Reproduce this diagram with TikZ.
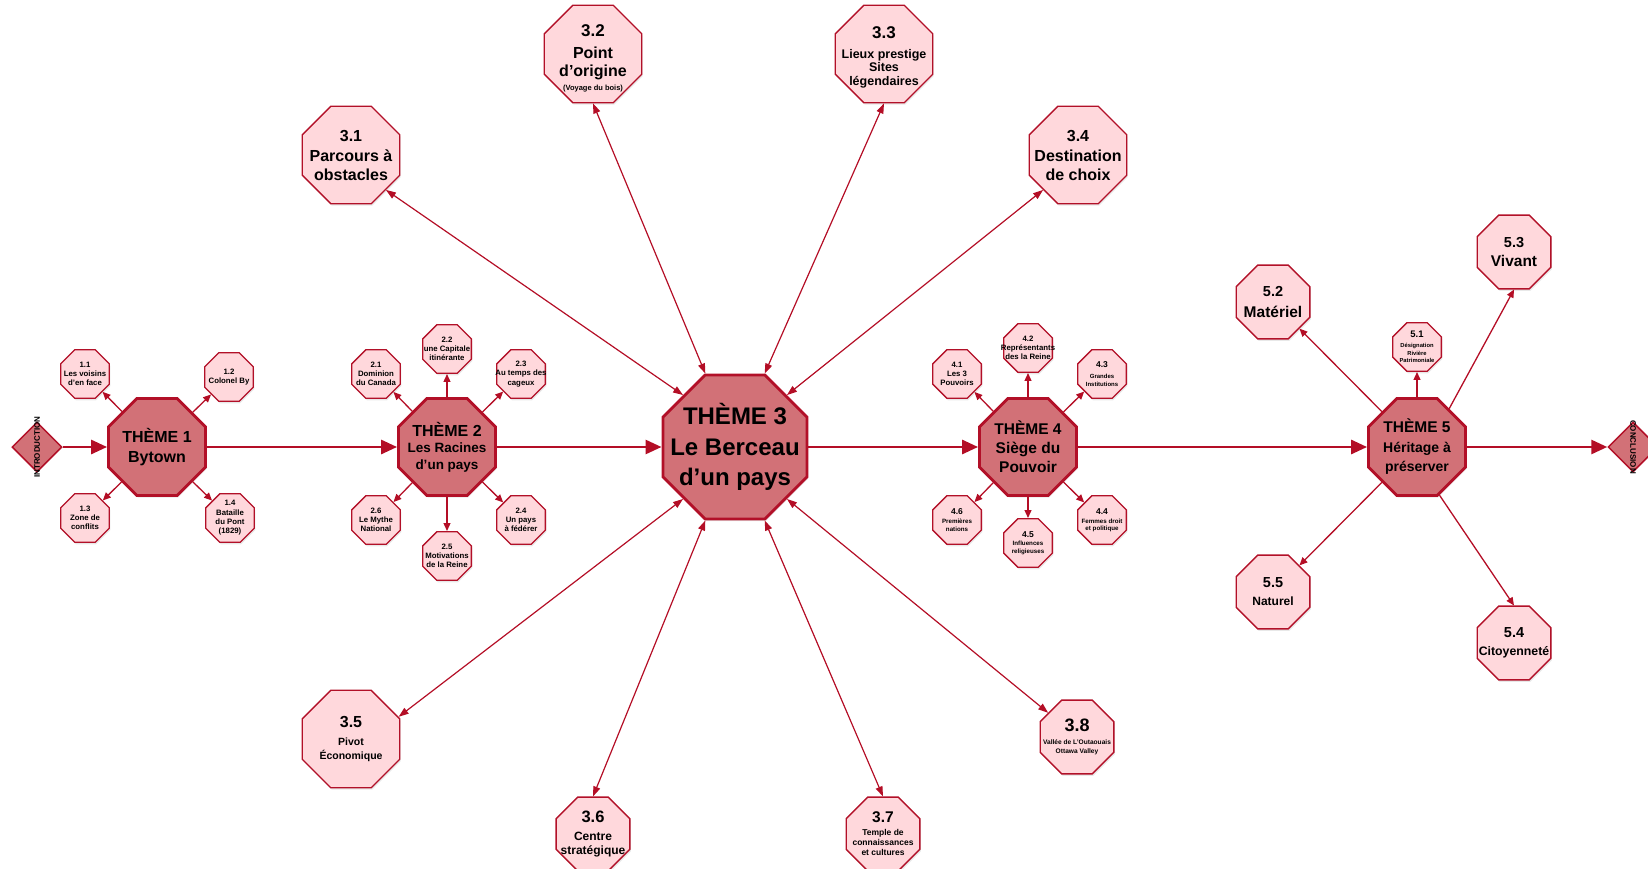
\documentclass[tikz,border=0pt]{standalone}
\usepackage{fontspec}
\setmainfont{Liberation Sans}
\usepackage{tikz}
\usetikzlibrary{shapes.geometric,arrows.meta,shadows}
\definecolor{ThemeFill}{RGB}{210,113,119}
\definecolor{SatFill}{RGB}{255,216,220}
\definecolor{EdgeRed}{RGB}{178,16,40}
\definecolor{ArrowRed}{RGB}{180,14,38}
\newcommand{\fsz}[2]{\fontsize{#1}{#2}\selectfont}

\begin{document}
\begin{tikzpicture}[x=1pt,y=-1pt,
    octagon/.style={regular polygon, regular polygon sides=8, inner sep=0pt,
      drop shadow={shadow xshift=1pt, shadow yshift=-2pt, opacity=0.18}},
    theme/.style={octagon, minimum size=105pt, fill=ThemeFill, draw=EdgeRed, line width=2.8pt},
    bigtheme/.style={theme, minimum size=156pt},
    sat/.style={octagon, minimum size=52.7pt, fill=SatFill, draw=EdgeRed, line width=1.3pt},
    site/.style={octagon, minimum size=105.5pt, fill=SatFill, draw=EdgeRed, line width=1.3pt},
    smallsite/.style={octagon, minimum size=79.8pt, fill=SatFill, draw=EdgeRed, line width=1.3pt},
    ends/.style={diamond, aspect=1, minimum size=50pt, inner sep=0pt, fill=ThemeFill, draw=EdgeRed, line width=1.5pt},
    endstext/.style={inner sep=0pt, font=\bfseries\fsz{8}{9}},
    themetext/.style={inner sep=0pt, align=center, font=\bfseries\fsz{16}{20}},
    sattext/.style={inner sep=0pt, align=center, font=\bfseries\fsz{7.8}{9.3}},
    sitetext/.style={inner sep=0pt, align=center, font=\bfseries\fsz{16}{19.5}},
    mainarrow/.style={draw=ArrowRed, line width=2.8pt, -{Triangle[length=16pt,width=14pt]}},
    subarrow/.style={draw=ArrowRed, line width=1.3pt, -{Triangle[length=8pt,width=7pt]}},
    sitearrow/.style={draw=ArrowRed, line width=1.2pt,
      {Triangle[length=10pt,width=7pt]}-{Triangle[length=10pt,width=7pt]}}]
  \useasboundingbox (0,0) rectangle (1648,869);

  \node[ends] (Intro) at (37,447) {};
  \node[endstext, rotate=90] (IntroText) at (Intro) {INTRODUCTION};

  \node[theme] (Theme1) at (157,447) {};
  \node[themetext] (Theme1Text) at (Theme1) {THÈME 1\\Bytown};
    \node[sat] (Sub11) at (85,374) {};
    \node[sattext] (Sub11Text) at (Sub11) {1.1\\Les voisins\\d’en face};
    \node[sat] (Sub12) at (229,377) {};
    \node[sattext] (Sub12Text) at (Sub12) {1.2\\Colonel By};
    \node[sat] (Sub13) at (85,518) {};
    \node[sattext] (Sub13Text) at (Sub13) {1.3\\Zone de\\conflits};
    \node[sat] (Sub14) at (230,518) {};
    \node[sattext] (Sub14Text) at (Sub14) {1.4\\Bataille\\du Pont\\(1829)};

  \node[theme] (Theme2) at (447,447) {};
  \node[themetext, font=\bfseries\fsz{13.5}{16.5}] (Theme2Text) at (Theme2)
    {{\fsz{16}{16.5}THÈME 2}\\Les Racines\\d’un pays};
    \node[sat] (Sub21) at (376,374) {};
    \node[sattext] (Sub21Text) at (Sub21) {2.1\\Dominion\\du Canada};
    \node[sat] (Sub22) at (447,349) {};
    \node[sattext] (Sub22Text) at (Sub22) {2.2\\une Capitale\\itinérante};
    \node[sat] (Sub23) at (521,374) {};
    \node[sattext] (Sub23Text) at (Sub23) {2.3\\Au temps des\\cageux};
    \node[sat] (Sub24) at (521,520) {};
    \node[sattext] (Sub24Text) at (Sub24) {2.4\\Un pays\\à fédérer};
    \node[sat] (Sub25) at (447,556) {};
    \node[sattext] (Sub25Text) at (Sub25) {2.5\\Motivations\\de la Reine};
    \node[sat] (Sub26) at (376,520) {};
    \node[sattext] (Sub26Text) at (Sub26) {2.6\\Le Mythe\\National};

  \node[bigtheme] (Theme3) at (735,447) {};
  \node[themetext, font=\bfseries\fsz{24}{30.5}] (Theme3Text) at (Theme3)
    {THÈME 3\\Le Berceau\\d’un pays};
    \node[site] (Site31) at (351,155) {};
    \node[sitetext] (Site31Text) at (351,155.5) {3.1\\Parcours à\\obstacles};
    \node[site] (Site32) at (593,54) {};
    \node[sitetext, font=\bfseries\fsz{16}{18}] (Site32Text) at (593,58)
      {{\fsz{17}{18}3.2}\\[4pt]Point\\d’origine\\[-4pt]{\fsz{7.5}{9}(Voyage du bois)}};
    \node[site] (Site33) at (884,54) {};
    \node[sitetext, font=\bfseries\fsz{12.5}{13.5}] (Site33Text) at (884,57)
      {{\fsz{17}{13.5}3.3}\\[6.5pt]Lieux prestige\\Sites\\légendaires};
    \node[site] (Site34) at (1078,155) {};
    \node[sitetext] (Site34Text) at (1078,155.5) {3.4\\Destination\\de choix};
    \node[site] (Site35) at (351,739) {};
    \node[sitetext, font=\bfseries\fsz{10.5}{14}] (Site35Text) at (Site35)
      {{\fsz{16}{14}3.5}\\[4pt]Pivot\\Économique};
    \node[smallsite] (Site36) at (593,834) {};
    \node[sitetext, font=\bfseries\fsz{12}{14}] (Site36Text) at (Site36)
      {{\fsz{16.5}{14}3.6}\\[4pt]Centre\\stratégique};
    \node[smallsite] (Site37) at (883,834) {};
    \node[sitetext, font=\bfseries\fsz{8.5}{10}] (Site37Text) at (Site37)
      {{\fsz{15.5}{10}3.7}\\[3pt]Temple de\\connaissances\\et cultures};
    \node[smallsite] (Site38) at (1077,737) {};
    \node[sitetext, font=\bfseries\fsz{6.6}{9}] (Site38Text) at (Site38)
      {{\fsz{18}{9}3.8}\\[4pt]Vallée de L’Outaouais\\Ottawa Valley};

  \node[theme] (Theme4) at (1028,447) {};
  \node[themetext, font=\bfseries\fsz{15.5}{19}] (Theme4Text) at (Theme4)
    {THÈME 4\\Siège du\\Pouvoir};
    \node[sat] (Sub41) at (957,374) {};
    \node[sattext] (Sub41Text) at (Sub41) {4.1\\Les 3\\Pouvoirs};
    \node[sat] (Sub42) at (1028,348) {};
    \node[sattext] (Sub42Text) at (Sub42) {4.2\\Représentants\\des la Reine};
    \node[sat] (Sub43) at (1102,374) {};
    \node[sattext, font=\bfseries\fsz{6}{8}] (Sub43Text) at (Sub43)
      {{\fsz{8.5}{8}4.3}\\[3pt]Grandes\\Institutions};
    \node[sat] (Sub44) at (1102,520) {};
    \node[sattext, font=\bfseries\fsz{6.2}{7.5}] (Sub44Text) at (Sub44)
      {{\fsz{8.5}{7.5}4.4}\\[1.5pt]Femmes droit\\et politique};
    \node[sat] (Sub45) at (1028,543) {};
    \node[sattext, font=\bfseries\fsz{6.2}{7.5}] (Sub45Text) at (Sub45)
      {{\fsz{8.5}{7.5}4.5}\\[1pt]Influences\\religieuses};
    \node[sat] (Sub46) at (957,520) {};
    \node[sattext, font=\bfseries\fsz{6.2}{7.5}] (Sub46Text) at (Sub46)
      {{\fsz{8.5}{7.5}4.6}\\[1.5pt]Premières\\nations};

  \node[theme] (Theme5) at (1417,447) {};
  \node[themetext, font=\bfseries\fsz{14}{19.5}] (Theme5Text) at (Theme5)
    {{\fsz{15.5}{19.5}THÈME 5}\\Héritage à\\préserver};
    \node[sat] (Sub51) at (1417,347) {};
    \node[sattext, font=\bfseries\fsz{5.8}{7.5}] (Sub51Text) at (Sub51)
      {{\fsz{9.5}{7.5}5.1}\\[2.5pt]Désignation\\Rivière\\Patrimoniale};
    \node[smallsite] (Sub52) at (1273,302) {};
    \node[sitetext, font=\bfseries\fsz{15.5}{21}] (Sub52Text) at (Sub52)
      {{\fsz{14.5}{21}5.2}\\Matériel};
    \node[smallsite] (Sub53) at (1514,252) {};
    \node[sitetext, font=\bfseries\fsz{15.5}{19}] (Sub53Text) at (Sub53)
      {{\fsz{14.5}{19}5.3}\\Vivant};
    \node[smallsite] (Sub54) at (1514,643) {};
    \node[sitetext, font=\bfseries\fsz{12.3}{18}] (Sub54Text) at (Sub54)
      {{\fsz{14.5}{18}5.4}\\Citoyenneté};
    \node[smallsite] (Sub55) at (1273,592) {};
    \node[sitetext, font=\bfseries\fsz{12}{18}] (Sub55Text) at (Sub55)
      {{\fsz{14.5}{18}5.5}\\Naturel};

  \node[ends] (Outro) at (1633,447) {};
  \node[endstext, rotate=-90] (OutroText) at (Outro) {CONCLUSION};

  \draw[mainarrow] (Intro) -- (Theme1);
  \draw[mainarrow] (Theme1) -- (Theme2);
  \draw[mainarrow] (Theme2) -- (Theme3);
  \draw[mainarrow] (Theme3) -- (Theme4);
  \draw[mainarrow] (Theme4) -- (Theme5);
  \draw[mainarrow] (Theme5) -- (Outro);

  \foreach \s in {Sub11,Sub12,Sub13,Sub14}
    \draw[subarrow] (Theme1) -- (\s);
  \foreach \s in {Sub21,Sub22,Sub23,Sub24,Sub25,Sub26}
    \draw[subarrow] (Theme2) -- (\s);

  \draw[sitearrow] (Theme3.135) -- (Site31.-45);
  \draw[sitearrow] (Theme3.112) -- (Site32.south);
  \draw[sitearrow] (Theme3.68) -- (Site33.south);
  \draw[sitearrow] (Theme3.45) -- (Site34.225);
  \draw[sitearrow] (Theme3.225) -- (Site35.25);
  \draw[sitearrow] (Theme3.248) -- (Site36.north);
  \draw[sitearrow] (Theme3.292) -- (Site37.north);
  \draw[sitearrow] (Theme3.-45) -- (Site38.140);

  \foreach \s in {Sub41,Sub42,Sub43,Sub44,Sub45,Sub46}
    \draw[subarrow] (Theme4) -- (\s);

  \draw[subarrow] (Theme5) -- (Sub51);
  \draw[subarrow] (Theme5) -- (Sub52);
  \draw[subarrow] (Theme5.50) -- (Sub53.south);
  \draw[subarrow] (Theme5.-65) -- (Sub54.north);
  \draw[subarrow] (Theme5) -- (Sub55);
\end{tikzpicture}
\end{document}
